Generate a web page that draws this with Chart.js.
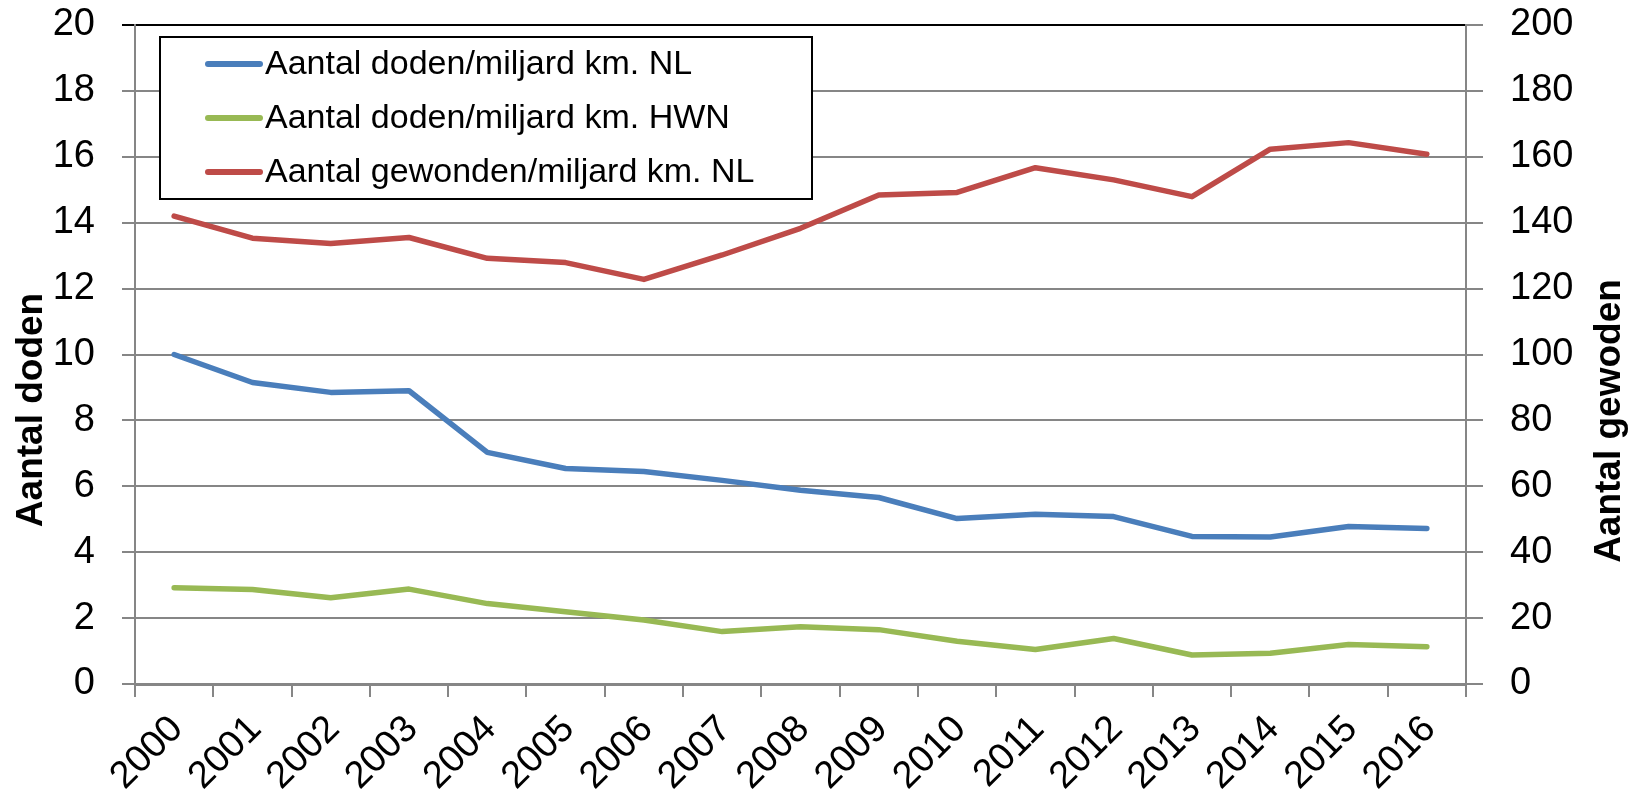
<!DOCTYPE html>
<html>
<head>
<meta charset="utf-8">
<script src="https://cdn.jsdelivr.net/npm/chart.js@4.4.1/dist/chart.umd.min.js"></script>
<style>
  html, body { margin: 0; padding: 0; background: #fff; }
  #chart { display: block; }
</style>
</head>
<body>
<canvas id="chart" width="1644" height="802"></canvas>
<script>
// data
const years = ['2000','2001','2002','2003','2004','2005','2006','2007','2008',
               '2009','2010','2011','2012','2013','2014','2015','2016'];
const dodenNL    = [10.0, 9.15, 8.85, 8.9, 7.03, 6.54, 6.45, 6.18, 5.88, 5.66, 5.02, 5.15, 5.08, 4.48, 4.46, 4.78, 4.72];
const dodenHWN   = [2.92, 2.87, 2.62, 2.88, 2.44, 2.19, 1.94, 1.59, 1.74, 1.65, 1.30, 1.05, 1.38, 0.88, 0.93, 1.20, 1.13];
const gewondenNL = [142, 135.3, 133.7, 135.5, 129.2, 127.9, 122.8, 130.2, 138.3, 148.4, 149.2, 156.7, 153, 147.9, 162.3, 164.3, 160.8];

const seriesLabels = [
  'Aantal doden/miljard km. NL',
  'Aantal doden/miljard km. HWN',
  'Aantal gewonden/miljard km. NL'
];
const leftTicks  = { min: 0, max: 20, step: 2 };
const rightTicks = { min: 0, max: 200, step: 20 };
const leftTitle  = 'Aantal doden';
const rightTitle = 'Aantal gewoden';

const FONT = "'Liberation Sans', Arial, sans-serif";
const GRID = '#868686';

Chart.defaults.font.family = FONT;
Chart.defaults.color = '#000';

// boxed legend in the top-left of the plot
const boxLegend = {
  id: 'boxLegend',
  afterDatasetsDraw(chart) {
    const { ctx, chartArea } = chart;
    const x = chartArea.left + 25, y = chartArea.top + 12, w = 652, h = 162;
    ctx.save();
    ctx.fillStyle = '#fff';
    ctx.fillRect(x, y, w, h);
    ctx.strokeStyle = '#000';
    ctx.lineWidth = 2;
    ctx.strokeRect(x, y, w, h);
    ctx.font = '34px ' + FONT;
    ctx.textBaseline = 'middle';
    ctx.fillStyle = '#000';
    chart.data.datasets.forEach((ds, i) => {
      const cy = y + 27 + i * 54;
      ctx.strokeStyle = ds.borderColor;
      ctx.lineWidth = 6;
      ctx.lineCap = 'round';
      ctx.beginPath();
      ctx.moveTo(x + 48, cy);
      ctx.lineTo(x + 100, cy);
      ctx.stroke();
      ctx.fillText(ds.label, x + 105, cy + 1);
    });
    ctx.restore();
  }
};

// axis titles, centred a little lower than the plot like the original
const axisTitles = {
  id: 'axisTitles',
  afterDraw(chart) {
    const { ctx } = chart;
    ctx.save();
    ctx.font = 'bold 37px ' + FONT;
    ctx.fillStyle = '#000';
    ctx.textAlign = 'center';
    ctx.textBaseline = 'middle';
    [[leftTitle, 32, 410], [rightTitle, 1610, 421]].forEach(([t, cx, cy]) => {
      ctx.save();
      ctx.translate(cx, cy);
      ctx.rotate(-Math.PI / 2);
      ctx.fillText(t, 0, 0);
      ctx.restore();
    });
    ctx.restore();
  }
};

// tick padding would otherwise push the plot top down
function fixVertical(width) {
  return s => { s.width = width; s.paddingTop = 0; s.paddingBottom = 0; };
}

const ctx = document.getElementById('chart').getContext('2d');
new Chart(ctx, {
  type: 'line',
  data: {
    labels: years,
    datasets: [
      { label: seriesLabels[0], data: dodenNL,    borderColor: '#4a7ebb', yAxisID: 'y' },
      { label: seriesLabels[1], data: dodenHWN,   borderColor: '#98b954', yAxisID: 'y' },
      { label: seriesLabels[2], data: gewondenNL, borderColor: '#be4b48', yAxisID: 'y2' }
    ]
  },
  options: {
    responsive: false,
    animation: false,
    devicePixelRatio: 1,
    layout: { padding: { top: 25, left: 0, right: 0, bottom: 0 } },
    elements: {
      line: { borderWidth: 5.5, tension: 0, borderCapStyle: 'round', borderJoinStyle: 'round', fill: false },
      point: { radius: 0, hoverRadius: 0 }
    },
    plugins: { legend: { display: false }, tooltip: { enabled: false } },
    scales: {
      x: {
        offset: true,
        grid: { offset: true, drawOnChartArea: false, tickLength: 13, color: GRID, lineWidth: 2 },
        border: { color: GRID, width: 3 },
        ticks: { minRotation: 45, maxRotation: 45, font: { size: 38 }, color: '#000', padding: 10, labelOffset: 3 },
        afterFit(s) { s.height = 118; }
      },
      y: {
        position: 'left',
        min: leftTicks.min, max: leftTicks.max,
        ticks: { stepSize: leftTicks.step, font: { size: 38 }, color: '#000', padding: 27 },
        grid: {
          color: c => (c.tick && c.tick.value === leftTicks.max) ? '#000' : GRID,
          lineWidth: 2, tickLength: 13
        },
        border: { color: GRID, width: 2 },
        afterFit: fixVertical(135)
      },
      y2: {
        position: 'right',
        min: rightTicks.min, max: rightTicks.max,
        ticks: { stepSize: rightTicks.step, font: { size: 38 }, color: '#000', padding: 27 },
        grid: { drawOnChartArea: false, tickLength: 17, color: GRID, lineWidth: 2 },
        border: { color: GRID, width: 2 },
        afterFit: fixVertical(178)
      }
    }
  },
  plugins: [boxLegend, axisTitles]
});
</script>
</body>
</html>
